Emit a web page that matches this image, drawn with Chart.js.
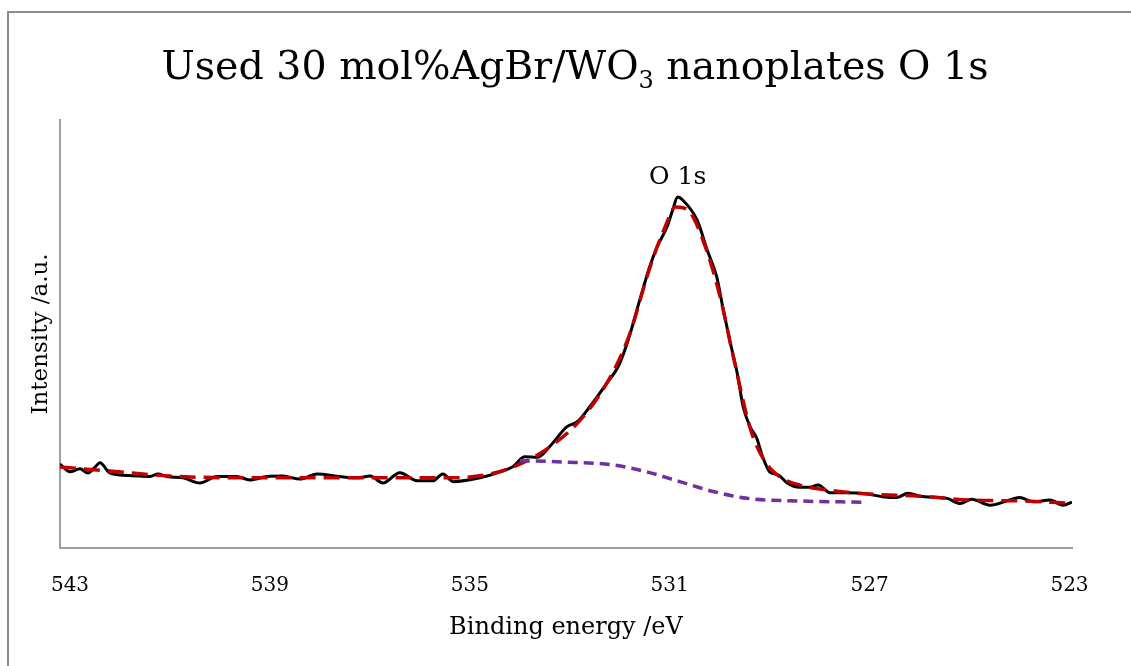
<!DOCTYPE html>
<html>
<head>
<meta charset="utf-8">
<script src="https://cdn.jsdelivr.net/npm/chart.js@4"></script>
<style>
  body { margin: 0; background: #fff; }
  #wrap { position: relative; width: 1131px; height: 666px; overflow: hidden; }
  #frame { position: absolute; left: 7px; top: 11px; width: 1200px; height: 700px;
           border-top: 2px solid #8c8c8c; border-left: 2px solid #8c8c8c; }
  canvas { position: absolute; left: 0; top: 0; }
</style>
</head>
<body>
<div id="wrap">
  <div id="frame"></div>
  <canvas id="xpsChart" width="1131" height="666"></canvas>
</div>
<script>
// measured spectrum (black)
const rawEnergy = [543.20, 543.00, 542.80, 542.64, 542.50, 542.40, 542.20, 541.74, 541.40, 541.24,
  541.06, 540.74, 540.40, 540.06, 539.66, 539.40, 539.06, 538.74, 538.40, 538.06,
  537.60, 537.26, 536.99, 536.74, 536.40, 536.05, 535.74, 535.54, 535.33, 534.80,
  534.39, 534.14, 533.90, 533.65, 533.40, 533.06, 532.85, 532.60, 532.26, 532.03,
  531.83, 531.60, 531.40, 531.25, 531.05, 530.94, 530.84, 530.74, 530.45, 530.25,
  530.06, 529.94, 529.80, 529.65, 529.53, 529.39, 529.26, 529.14, 529.00, 528.83,
  528.65, 528.40, 528.20, 528.03, 527.79, 527.46, 527.05, 526.74, 526.46, 526.23,
  525.99, 525.45, 525.19, 524.96, 524.59, 524.25, 524.00, 523.73, 523.39, 523.13, 522.95];
const rawIntensity = [19.6, 17.8, 18.5, 17.5, 18.9, 19.9, 17.5, 16.9, 16.7, 17.3,
  16.7, 16.4, 15.2, 16.7, 16.7, 15.9, 16.7, 16.8, 16.1, 17.3,
  16.7, 16.4, 16.8, 15.2, 17.6, 15.7, 15.7, 17.3, 15.5, 16.4,
  17.8, 19.0, 21.3, 21.2, 23.7, 28.3, 29.5, 33.0, 38.5, 42.4,
  48.6, 57.9, 65.7, 70.4, 75.1, 79.0, 82.0, 81.3, 76.6, 69.6,
  63.4, 56.4, 48.6, 40.9, 33.0, 28.3, 25.7, 21.3, 17.8, 17.1,
  15.2, 14.2, 14.2, 14.7, 12.9, 12.9, 12.6, 12.0, 11.8, 12.8,
  12.1, 11.6, 10.4, 11.4, 10.0, 11.0, 11.8, 10.8, 11.2, 10.0, 10.7];

// fitted envelope (red dashed)
const fitEnergy = [543.20, 542.20, 541.00, 539.40, 537.40, 535.39, 534.59, 534.00, 533.40, 532.79,
  532.20, 531.80, 531.40, 531.10, 530.88, 530.60, 530.30, 530.00, 529.69, 529.39,
  529.10, 528.79, 528.40, 527.79, 527.00, 525.99, 525.00, 524.00, 523.03];
const fitIntensity = [18.9, 18.0, 16.8, 16.4, 16.4, 16.4, 17.3, 19.6, 23.6, 29.9,
  39.7, 50.0, 65.4, 74.8, 79.7, 78.5, 70.8, 59.1, 42.7, 28.0,
  20.3, 16.6, 14.7, 13.5, 12.6, 12.1, 11.2, 11.0, 10.5];

// background (purple dashed)
const bgEnergy = [534.00, 533.14, 532.13, 531.46, 530.80, 530.13, 529.45, 528.45, 527.15];
const bgIntensity = [20.4, 20.1, 19.4, 17.8, 15.5, 13.2, 11.6, 11.0, 10.7];

const xTicks = [543, 539, 535, 531, 527, 523];
const peakLabel = "O 1s";
const peakEnergy = 530.84;
const peakIntensity = 82.0;

const FONT = "'DejaVu Serif', 'Liberation Serif', serif";

function toPoints(xs, ys) {
  return xs.map((x, i) => ({ x: x, y: ys[i] }));
}

// title with a subscript 3
const titlePlugin = {
  id: 'subTitle',
  afterDraw(chart) {
    const ctx = chart.ctx;
    const size = 39.5;
    const parts = [
      { t: 'Used 30 mol%AgBr/WO', s: size, dy: 0 },
      { t: '3', s: Math.round(size * 0.62), dy: 9 },
      { t: ' nanoplates O 1s', s: size, dy: 0 }
    ];
    ctx.save();
    ctx.fillStyle = '#000';
    ctx.textBaseline = 'alphabetic';
    let total = 0;
    parts.forEach(p => {
      ctx.font = p.s + 'px ' + FONT;
      p.w = ctx.measureText(p.t).width;
      total += p.w;
    });
    let x = 575 - total / 2;
    parts.forEach(p => {
      ctx.font = p.s + 'px ' + FONT;
      ctx.fillText(p.t, x, 79 + p.dy);
      x += p.w;
    });
    ctx.restore();
  }
};

const peakPlugin = {
  id: 'peakLabel',
  afterDatasetsDraw(chart) {
    const ctx = chart.ctx;
    const xs = chart.scales.x, ys = chart.scales.y;
    ctx.save();
    ctx.font = '25px ' + FONT;
    ctx.fillStyle = '#000';
    ctx.textAlign = 'center';
    ctx.textBaseline = 'alphabetic';
    ctx.fillText(peakLabel, xs.getPixelForValue(peakEnergy), ys.getPixelForValue(peakIntensity) - 13);
    ctx.restore();
  }
};

const chart = new Chart(document.getElementById('xpsChart'), {
  type: 'line',
  data: {
    datasets: [
      {
        data: toPoints(bgEnergy, bgIntensity),
        borderColor: '#7030a0',
        borderWidth: 3.5,
        borderDash: [10, 6],
        pointRadius: 0,
        cubicInterpolationMode: 'monotone',
        fill: false
      },
      {
        data: toPoints(fitEnergy, fitIntensity),
        borderColor: '#c00000',
        borderWidth: 3.5,
        borderDash: [16, 8],
        pointRadius: 0,
        cubicInterpolationMode: 'monotone',
        fill: false
      },
      {
        data: toPoints(rawEnergy, rawIntensity),
        borderColor: '#000000',
        borderWidth: 3,
        pointRadius: 0,
        cubicInterpolationMode: 'monotone',
        fill: false
      }
    ]
  },
  options: {
    responsive: false,
    animation: false,
    layout: { padding: { top: 120, right: 59, left: 0, bottom: 0 } },
    plugins: { legend: { display: false }, title: { display: false }, tooltip: { enabled: false } },
    scales: {
      x: {
        type: 'linear',
        reverse: true,
        min: 522.95,
        max: 543.2,
        afterBuildTicks: s => { s.ticks = xTicks.map(v => ({ value: v })); },
        afterFit: s => { s.height = 118; },
        grid: { display: false, drawTicks: false },
        border: { display: true, color: '#a0a0a0', width: 2 },
        ticks: { color: '#000', padding: 26, maxRotation: 0, font: { family: FONT, size: 20 } },
        title: {
          display: true,
          text: 'Binding energy /eV',
          color: '#000',
          font: { family: FONT, size: 24 },
          padding: { top: 24, bottom: 24 }
        }
      },
      y: {
        min: 0,
        max: 100,
        afterFit: s => { s.width = 60; },
        grid: { display: false, drawTicks: false },
        border: { display: true, color: '#a0a0a0', width: 2 },
        ticks: { display: false },
        title: {
          display: true,
          text: 'Intensity /a.u.',
          color: '#000',
          font: { family: FONT, size: 23 },
          padding: { top: 27, bottom: 27 }
        }
      }
    }
  },
  plugins: [titlePlugin, peakPlugin]
});
</script>
</body>
</html>
